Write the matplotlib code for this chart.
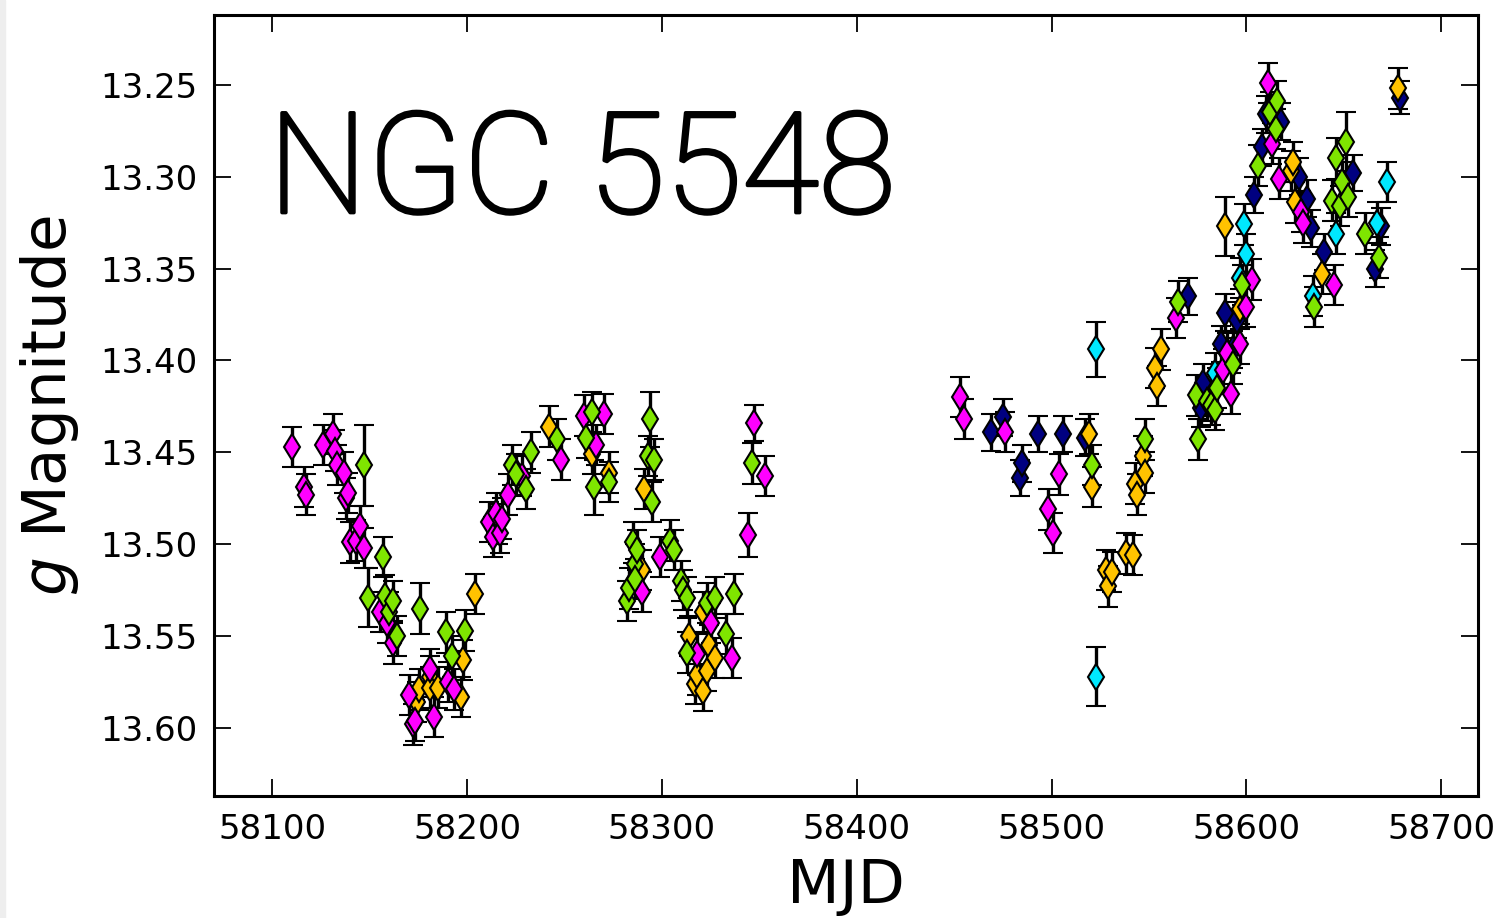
import matplotlib
matplotlib.use("Agg")
import matplotlib.pyplot as plt
import matplotlib.patheffects as pe
from matplotlib.patches import Rectangle

# ---------------- data ----------------
mag_mjd = [58110, 58116, 58117, 58126, 58131, 58132, 58133, 58137, 58138, 58139,
           58140, 58143, 58145, 58147, 58155, 58159, 58162, 58170, 58172, 58173,
           58181, 58183, 58190, 58193, 58211, 58213, 58215, 58217, 58218, 58221,
           58228, 58248, 58260, 58266, 58270, 58290, 58299, 58318, 58325, 58336,
           58344, 58347, 58353, 58453, 58455, 58476, 58498, 58501, 58504, 58564,
           58588, 58590, 58592, 58597, 58600, 58603, 58611, 58613, 58617, 58628,
           58629, 58645]
mag_val = [13.447, 13.469, 13.473, 13.446, 13.440, 13.449, 13.457, 13.461, 13.475, 13.472,
           13.499, 13.498, 13.490, 13.502, 13.537, 13.543, 13.554, 13.582, 13.598, 13.596,
           13.568, 13.594, 13.575, 13.579, 13.488, 13.496, 13.483, 13.494, 13.486, 13.473,
           13.463, 13.454, 13.430, 13.446, 13.429, 13.526, 13.507, 13.560, 13.543, 13.562,
           13.495, 13.434, 13.463, 13.420, 13.432, 13.439, 13.481, 13.494, 13.462, 13.377,
           13.405, 13.396, 13.418, 13.391, 13.371, 13.356, 13.249, 13.282, 13.301, 13.319,
           13.325, 13.359]
mag_err = [0.011] * 40 + [0.012, 0.010] + [0.011] * 20

grn_mjd = [58147, 58149, 58157, 58158, 58160, 58162, 58164, 58176, 58189, 58192,
           58199, 58223, 58225, 58230, 58233, 58246, 58261, 58264, 58265, 58273,
           58282, 58283, 58285, 58286, 58286, 58287, 58293, 58294, 58295, 58296,
           58304, 58306, 58310, 58311, 58313, 58313, 58323, 58327, 58333, 58337,
           58346, 58521, 58548, 58565, 58574, 58575, 58580, 58582, 58584, 58585,
           58593, 58598, 58606, 58612, 58615, 58616, 58635, 58644, 58646, 58648,
           58649, 58651, 58652, 58661, 58668]
grn_val = [13.457, 13.529, 13.507, 13.528, 13.537, 13.531, 13.550, 13.535, 13.548, 13.561,
           13.547, 13.457, 13.462, 13.470, 13.450, 13.443, 13.442, 13.428, 13.469, 13.466,
           13.531, 13.524, 13.499, 13.511, 13.519, 13.503, 13.452, 13.432, 13.477, 13.454,
           13.498, 13.503, 13.520, 13.525, 13.529, 13.559, 13.532, 13.529, 13.549, 13.527,
           13.456, 13.457, 13.443, 13.368, 13.419, 13.443, 13.422, 13.424, 13.427, 13.415,
           13.402, 13.359, 13.294, 13.265, 13.274, 13.259, 13.371, 13.313, 13.290, 13.316,
           13.303, 13.281, 13.311, 13.331, 13.344]
grn_err = [0.022, 0.016, 0.011, 0.011, 0.011, 0.011, 0.011, 0.014, 0.011, 0.011,
           0.011, 0.011, 0.011, 0.011, 0.011, 0.011, 0.011, 0.011, 0.015, 0.011,
           0.011, 0.011, 0.011, 0.011, 0.011, 0.011, 0.011, 0.015, 0.011, 0.011,
           0.011, 0.011, 0.011, 0.011, 0.011, 0.011, 0.011, 0.011, 0.011, 0.011,
           0.011, 0.011, 0.011, 0.011, 0.011, 0.011, 0.011, 0.011, 0.011, 0.011,
           0.011, 0.011, 0.011, 0.011, 0.011, 0.011, 0.011, 0.011, 0.011, 0.011,
           0.011, 0.016, 0.011, 0.011, 0.011]

yel_mjd = [58174, 58175, 58181, 58181, 58185, 58197, 58198, 58204, 58216, 58242,
           58264, 58273, 58290, 58291, 58314, 58317, 58318, 58321, 58321, 58323,
           58324, 58327, 58519, 58521, 58528, 58529, 58531, 58538, 58542, 58543,
           58544, 58547, 58548, 58553, 58554, 58556, 58589, 58597, 58623, 58624,
           58625, 58639, 58678]
yel_val = [13.586, 13.579, 13.572, 13.578, 13.578, 13.583, 13.563, 13.527, 13.489, 13.436,
           13.451, 13.461, 13.514, 13.470, 13.550, 13.576, 13.571, 13.537, 13.580, 13.569,
           13.555, 13.562, 13.440, 13.469, 13.514, 13.523, 13.515, 13.505, 13.506, 13.467,
           13.473, 13.452, 13.461, 13.404, 13.414, 13.394, 13.327, 13.372, 13.297, 13.292,
           13.314, 13.353, 13.252]
yel_err = [0.011] * 36 + [0.016] + [0.011] * 6

cyn_mjd = [58523, 58523, 58584, 58597, 58599, 58600, 58634, 58646, 58667, 58672]
cyn_val = [13.394, 13.572, 13.407, 13.355, 13.326, 13.342, 13.365, 13.331, 13.325, 13.303]
cyn_err = [0.015, 0.016, 0.011, 0.011, 0.011, 0.011, 0.011, 0.011, 0.011, 0.011]

nav_mjd = [58469, 58475, 58484, 58485, 58493, 58506, 58517, 58570, 58577, 58578,
           58587, 58589, 58593, 58595, 58604, 58608, 58610, 58618, 58627, 58631,
           58633, 58640, 58655, 58666, 58669, 58679]
nav_val = [13.439, 13.431, 13.464, 13.456, 13.440, 13.440, 13.442, 13.365, 13.426, 13.412,
           13.391, 13.374, 13.394, 13.378, 13.310, 13.284, 13.266, 13.270, 13.300, 13.312,
           13.328, 13.341, 13.298, 13.350, 13.327, 13.257]
nav_err = [0.010] * 25 + [0.009]

x_ticks = [58100, 58200, 58300, 58400, 58500, 58600, 58700]
y_ticks = [13.25, 13.30, 13.35, 13.40, 13.45, 13.50, 13.55, 13.60]

# ---------------- figure ----------------
fig = plt.figure(figsize=(15.07, 9.18), dpi=100)
fig.patches.append(Rectangle((0, 0), 5 / 1507, 1, transform=fig.transFigure,
                             color='#eeeeee', zorder=0))
ax = fig.add_axes([0.1420, 0.1329, 0.8388, 0.8508])

style = dict(fmt='d', ecolor='k', elinewidth=2.4, capsize=7, capthick=2.2,
             mec='k', mew=1.5, ms=13.5)
series = [
    (nav_mjd, nav_val, nav_err, '#000080'),
    (cyn_mjd, cyn_val, cyn_err, '#00E8FF'),
    (yel_mjd, yel_val, yel_err, '#FFC300'),
    (mag_mjd, mag_val, mag_err, '#FF00FF'),
    (grn_mjd, grn_val, grn_err, '#7FE500'),
]
for x, y, e, c in series:
    ax.errorbar(x, y, yerr=e, mfc=c, **style)

ax.set_xlim(58070, 58719)
ax.set_ylim(13.637, 13.212)
ax.set_xticks(x_ticks)
ax.set_xticklabels([str(t) for t in x_ticks])
ax.set_yticks(y_ticks)
ax.set_yticklabels([f"{t:.2f}" for t in y_ticks])
ax.tick_params(direction='in', length=12, width=1.3, top=True, right=True,
               labelsize=24.5, pad=12)
for s in ax.spines.values():
    s.set_linewidth(2.2)

ax.set_xlabel('MJD', fontsize=44, labelpad=8)
ax.set_ylabel('$g$ Magnitude', fontsize=44, labelpad=14)

ax.text(0.043, 0.747, 'NGC 5548', transform=ax.transAxes, fontsize=101,
        family='Roboto', fontweight='light', ha='left', va='baseline',
        path_effects=[pe.withStroke(linewidth=2.6, foreground='k')])

fig.savefig('out.png', dpi=100)
